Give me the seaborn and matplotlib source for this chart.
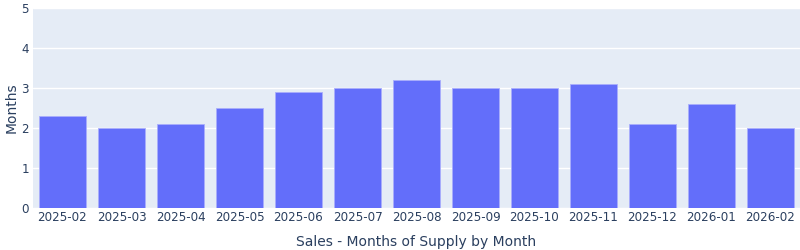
import matplotlib
matplotlib.use("Agg")
import matplotlib.pyplot as plt
import seaborn as sns
import pandas as pd

months = ["2025-02", "2025-03", "2025-04", "2025-05", "2025-06", "2025-07", "2025-08",
          "2025-09", "2025-10", "2025-11", "2025-12", "2026-01", "2026-02"]
supply = [2.3, 2.0, 2.1, 2.5, 2.9, 3.0, 3.2, 3.0, 3.0, 3.1, 2.1, 2.6, 2.0]
yticks = [0, 1, 2, 3, 4, 5]

df = pd.DataFrame({"Month": months, "Months": supply})

sns.set_theme(style="white")
plt.rcParams['font.family'] = ['DejaVu Sans']

text_color = "#2a3f5f"
fig = plt.figure(figsize=(8, 2.5), dpi=100)
ax = fig.add_axes([33/800, 42/250, 767/800, 200/250])
ax.set_facecolor("#E5ECF6")

sns.barplot(data=df, x="Month", y="Months", color="#636EFA", saturation=1,
            width=0.8, edgecolor="#A9AEFC", linewidth=0.6, ax=ax, zorder=3)

ax.set_ylim(0, 5)
ax.set_xlim(-0.5, len(months) - 0.5)
ax.set_yticks(yticks)
ax.yaxis.grid(True, color="white", linewidth=1, zorder=0)
ax.set_axisbelow(True)
for s in ax.spines.values():
    s.set_visible(False)
ax.tick_params(axis="both", length=0, labelsize=8.6, colors=text_color, pad=3)
ax.tick_params(axis="x", pad=2)
ax.set_xlabel("Sales - Months of Supply by Month", fontsize=10, color=text_color, labelpad=8)
ax.set_ylabel("Months", fontsize=10, color=text_color)
ax.yaxis.set_label_coords(-14/767, 0.5)

fig.savefig("out.png", dpi=100)
